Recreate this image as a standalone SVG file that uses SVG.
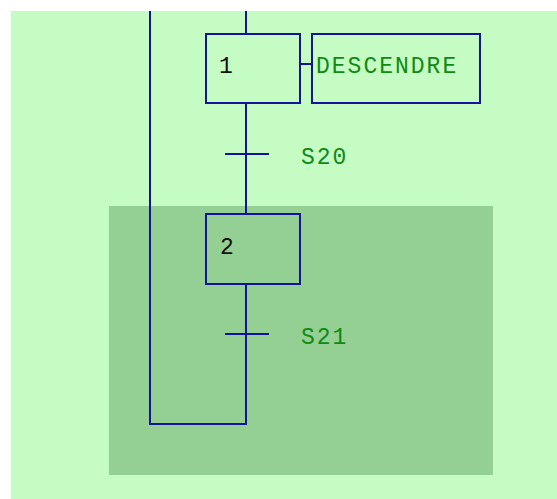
<svg xmlns="http://www.w3.org/2000/svg" width="557" height="499" viewBox="0 0 557 499">
<style>
.ln{stroke:#14149a;stroke-width:2;fill:none}
.box{stroke:#14149a;stroke-width:2;fill:none}
.num{font-family:"Liberation Mono","Courier New",monospace;font-size:23px;fill:#101010}
.lbl{font-family:"Liberation Mono","Courier New",monospace;font-size:23px;letter-spacing:2px;fill:#108a10}
</style>
<rect x="0" y="0" width="557" height="499" fill="#ffffff"/>
<rect x="11" y="11" width="546" height="488" fill="#c4fcc4"/>
<rect x="109" y="206" width="384" height="269" fill="#94cf94"/>
<g id="connectors">
<polyline class="ln" points="150,11 150,424 246,424 246,284"/>
<line class="ln" x1="246" y1="11" x2="246" y2="34"/>
<line class="ln" x1="246" y1="103" x2="246" y2="214"/>
<line class="ln" x1="300" y1="64" x2="312" y2="64"/>
</g>
<g id="step1">
<rect class="box" x="206" y="34" width="94" height="69"/>
<text class="num" x="219" y="73">1</text>
</g>
<g id="action1">
<rect class="box" x="312" y="34" width="168" height="69"/>
<text class="lbl" x="316" y="73">DESCENDRE</text>
</g>
<g id="t1">
<line class="ln" x1="225" y1="154" x2="269" y2="154"/>
<text class="lbl" x="301" y="164">S20</text>
</g>
<g id="step2">
<rect class="box" x="206" y="214" width="94" height="70"/>
<text class="num" x="220" y="254">2</text>
</g>
<g id="t2">
<line class="ln" x1="225" y1="334" x2="269" y2="334"/>
<text class="lbl" x="301" y="344">S21</text>
</g>
</svg>
